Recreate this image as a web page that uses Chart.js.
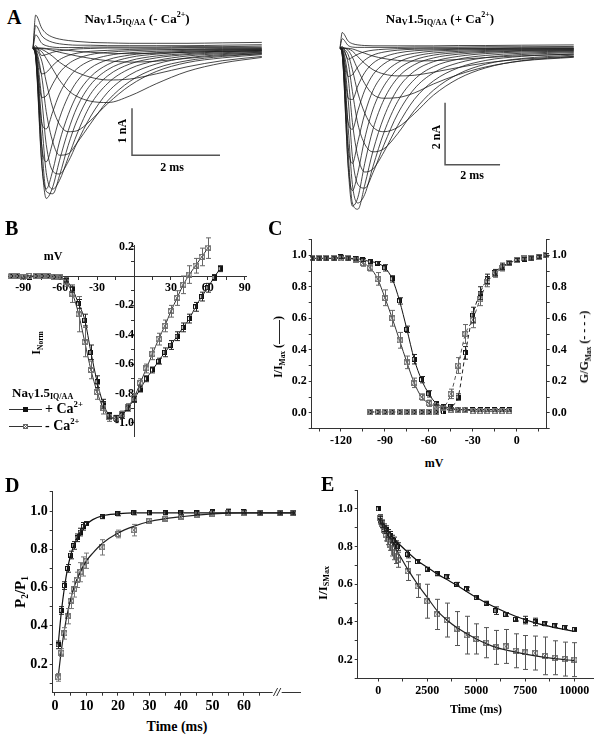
<!DOCTYPE html>
<html>
<head>
<meta charset="utf-8">
<script src="https://cdn.jsdelivr.net/npm/chart.js@4.4.1/dist/chart.umd.min.js"></script>
<style>
  body { margin: 0; background: #fff; width: 601px; height: 740px; position: relative; overflow: hidden;
         font-family: "Liberation Serif", "DejaVu Serif", serif; font-weight: bold; color: #000; }
  canvas { position: absolute; }
  .t { position: absolute; white-space: nowrap; line-height: 1; transform: translate(-50%, -50%); }
  .tl { position: absolute; white-space: nowrap; line-height: 1; transform: translate(0, -50%); }
  .rot { transform: translate(-50%, -50%) rotate(-90deg); }
  .lab { position: absolute; font-size: 20px; line-height: 1; }
  sub { font-size: 62%; vertical-align: -0.35em; line-height: 0; }
  sup { font-size: 62%; vertical-align: 0.65em; line-height: 0; }
  .ln { position: absolute; height: 0; border-top: 1px solid #333; }
  .mk { position: absolute; width: 5px; height: 5px; box-sizing: border-box; }
  .mfill { background: #111; border: 1px solid #111; }
  .mcross { border: 1px solid #666; background:
      linear-gradient(45deg, transparent 42%, #666 42%, #666 58%, transparent 58%),
      linear-gradient(-45deg, transparent 42%, #666 42%, #666 58%, transparent 58%), #fff; }
</style>
</head>
<body>
<canvas id="aMinus"></canvas>
<canvas id="aPlus"></canvas>
<canvas id="chartB"></canvas>
<canvas id="chartC"></canvas>
<canvas id="chartD"></canvas>
<canvas id="chartE"></canvas>

<div class="lab" style="left:7px;top:7px">A</div>
<div class="t" style="left:137px;top:18px;font-size:13px">Na<sub>V</sub>1.5<sub>IQ/AA</sub> (- Ca<sup>2+</sup>)</div>
<div class="t" style="left:440px;top:18px;font-size:13px">Na<sub>V</sub>1.5<sub>IQ/AA</sub> (+ Ca<sup>2+</sup>)</div>
<div class="t rot" style="left:122px;top:131px;font-size:12px">1 nA</div>
<div class="t" style="left:172px;top:167px;font-size:12px">2 ms</div>
<div class="t rot" style="left:436px;top:137px;font-size:12px">2 nA</div>
<div class="t" style="left:472px;top:175px;font-size:12px">2 ms</div>

<div class="lab" style="left:5px;top:218px">B</div>
<div class="t" style="left:53px;top:256px;font-size:12px">mV</div>
<div class="t rot" style="left:36px;top:343px;font-size:12px">I<sub>Norm</sub></div>
<div class="tl" style="left:12px;top:392px;font-size:13px">Na<sub>V</sub>1.5<sub>IQ/AA</sub></div>
<div class="ln" style="left:9px;top:409px;width:33px"></div>
<div class="mk mfill" style="left:23px;top:407px"></div>
<div class="tl" style="left:45px;top:409px;font-size:14px">+ Ca<sup>2+</sup></div>
<div class="ln" style="left:9px;top:426px;width:33px"></div>
<div class="mk mcross" style="left:23px;top:424px"></div>
<div class="tl" style="left:45px;top:426px;font-size:14px">- Ca<sup>2+</sup></div>

<div class="lab" style="left:268px;top:218px">C</div>
<div class="t rot" style="left:278px;top:347px;font-size:12px">I/I<sub>Max</sub> (——)</div>
<div class="t rot" style="left:584px;top:347px;font-size:12px">G/G<sub>Max</sub> (- - - -)</div>
<div class="t" style="left:434px;top:463px;font-size:12px">mV</div>

<div class="lab" style="left:5px;top:475px">D</div>
<div class="t rot" style="left:20px;top:592px;font-size:15px">P<sub>2</sub>/P<sub>1</sub></div>
<div class="t" style="left:177px;top:727px;font-size:14px">Time (ms)</div>
<div class="t" style="left:277px;top:692px;font-size:12px;font-style:italic;background:#fff;padding:0 1px">//</div>

<div class="lab" style="left:321px;top:474px">E</div>
<div class="t rot" style="left:322px;top:583px;font-size:13px">I/I<sub>SMax</sub></div>
<div class="t" style="left:476px;top:709px;font-size:12px">Time (ms)</div>

<script>
// ---------- A: current traces (nA), sampled at fixed times (ms)
const aMinusTime = [0, 0.06, 0.2, 0.3, 0.45, 0.6, 0.8, 1.0, 1.3, 1.7, 2.2, 2.8, 3.5, 4.3, 5.2];
const aMinusTraces = [
  [0, 0.70, 0.42, 0.31, 0.23, 0.19, 0.16, 0.14, 0.12, 0.11, 0.10, 0.10, 0.10, 0.11, 0.12],
  [0, 0.48, 0.26, 0.18, 0.12, 0.09, 0.07, 0.06, 0.06, 0.05, 0.05, 0.05, 0.05, 0.06, 0.07],
  [0, 0.28, 0.10, 0.05, 0.02, 0.01, 0.01, 0.01, 0.02, 0.02, 0.02, 0.02, 0.03, 0.03, 0.04],
  [0, 0.05, -0.16, -0.14, -0.09, -0.06, -0.04, -0.02, -0.01, 0, 0, 0, 0.01, 0.01, 0.01],
  [0, -0.05, -0.55, -0.52, -0.37, -0.25, -0.16, -0.11, -0.07, -0.05, -0.03, -0.02, -0.02, -0.01, -0.01],
  [0, -0.10, -1.05, -1.02, -0.76, -0.53, -0.34, -0.23, -0.14, -0.09, -0.06, -0.04, -0.03, -0.03, -0.02],
  [0, -0.15, -1.60, -1.72, -1.35, -0.98, -0.65, -0.44, -0.27, -0.16, -0.10, -0.07, -0.05, -0.04, -0.03],
  [0, -0.18, -2.10, -2.42, -2.00, -1.50, -1.03, -0.71, -0.43, -0.25, -0.15, -0.10, -0.07, -0.05, -0.04],
  [0, -0.20, -2.50, -3.00, -2.60, -2.00, -1.42, -1.00, -0.62, -0.35, -0.20, -0.13, -0.09, -0.07, -0.05],
  [0, -0.18, -2.45, -3.20, -2.95, -2.40, -1.76, -1.26, -0.79, -0.46, -0.27, -0.17, -0.12, -0.08, -0.06],
  [0, -0.14, -2.10, -3.05, -3.10, -2.72, -2.07, -1.54, -0.99, -0.59, -0.34, -0.21, -0.14, -0.10, -0.07],
  [0, -0.10, -1.60, -2.65, -3.00, -2.82, -2.33, -1.83, -1.22, -0.75, -0.44, -0.27, -0.17, -0.12, -0.09],
  [0, -0.06, -1.10, -2.05, -2.62, -2.68, -2.42, -2.02, -1.47, -0.94, -0.57, -0.34, -0.21, -0.14, -0.10],
  [0, -0.03, -0.62, -1.35, -2.00, -2.28, -2.25, -2.02, -1.62, -1.12, -0.71, -0.43, -0.27, -0.18, -0.12],
  [0, -0.02, -0.28, -0.72, -1.28, -1.62, -1.78, -1.76, -1.55, -1.18, -0.80, -0.50, -0.31, -0.21, -0.14],
  [0, -0.01, -0.08, -0.22, -0.45, -0.68, -0.90, -1.03, -1.13, -1.16, -1.02, -0.76, -0.50, -0.32, -0.20],
  [0, 0, -0.03, -0.08, -0.18, -0.30, -0.42, -0.52, -0.62, -0.68, -0.66, -0.55, -0.40, -0.27, -0.18],
  [0, 0, -0.01, -0.02, -0.05, -0.09, -0.13, -0.17, -0.22, -0.27, -0.30, -0.28, -0.22, -0.16, -0.12],
  [0, 0, 0, -0.01, -0.02, -0.03, -0.05, -0.07, -0.09, -0.11, -0.12, -0.11, -0.09, -0.07, -0.06]
];
const aPlusTime = [0, 0.08, 0.3, 0.45, 0.65, 0.9, 1.2, 1.6, 2.1, 2.7, 3.4, 4.3, 5.3, 6.6, 8.5];
const aPlusTraces = [
  [0, 0.50, 0.22, 0.14, 0.10, 0.08, 0.07, 0.07, 0.07, 0.07, 0.07, 0.08, 0.08, 0.09, 0.10],
  [0, 0.30, 0.08, 0.03, 0.02, 0.02, 0.02, 0.02, 0.02, 0.03, 0.03, 0.03, 0.04, 0.04, 0.05],
  [0, 0.05, -0.36, -0.30, -0.20, -0.12, -0.07, -0.04, -0.02, -0.01, 0, 0, 0, 0.01, 0.01],
  [0, -0.05, -0.92, -0.86, -0.61, -0.39, -0.23, -0.13, -0.07, -0.04, -0.03, -0.02, -0.02, -0.01, -0.01],
  [0, -0.10, -1.62, -1.66, -1.22, -0.79, -0.49, -0.29, -0.16, -0.09, -0.06, -0.04, -0.03, -0.03, -0.02],
  [0, -0.15, -2.42, -2.62, -2.02, -1.36, -0.86, -0.51, -0.29, -0.17, -0.10, -0.07, -0.05, -0.04, -0.03],
  [0, -0.20, -3.20, -3.72, -3.02, -2.12, -1.37, -0.83, -0.47, -0.27, -0.16, -0.11, -0.08, -0.06, -0.05],
  [0, -0.22, -3.80, -4.60, -4.02, -2.92, -1.97, -1.22, -0.69, -0.39, -0.23, -0.15, -0.11, -0.08, -0.06],
  [0, -0.20, -3.90, -5.10, -4.82, -3.72, -2.62, -1.66, -0.96, -0.54, -0.32, -0.20, -0.14, -0.10, -0.08],
  [0, -0.15, -3.40, -5.00, -5.20, -4.42, -3.32, -2.22, -1.32, -0.75, -0.44, -0.27, -0.18, -0.13, -0.10],
  [0, -0.10, -2.60, -4.40, -5.00, -4.72, -3.82, -2.72, -1.72, -1.02, -0.60, -0.36, -0.24, -0.17, -0.12],
  [0, -0.06, -1.70, -3.50, -4.40, -4.52, -4.02, -3.12, -2.12, -1.32, -0.80, -0.48, -0.31, -0.21, -0.15],
  [0, -0.03, -1.00, -2.40, -3.50, -4.00, -3.90, -3.35, -2.50, -1.66, -1.06, -0.64, -0.40, -0.27, -0.19],
  [0, -0.02, -0.50, -1.40, -2.45, -3.10, -3.35, -3.25, -2.76, -2.02, -1.36, -0.84, -0.52, -0.34, -0.23],
  [0, -0.01, -0.22, -0.70, -1.45, -2.10, -2.55, -2.70, -2.56, -2.12, -1.52, -0.99, -0.64, -0.41, -0.28],
  [0, 0, -0.08, -0.30, -0.70, -1.15, -1.50, -1.62, -1.60, -1.45, -1.16, -0.86, -0.61, -0.42, -0.30],
  [0, 0, -0.03, -0.10, -0.28, -0.50, -0.70, -0.84, -0.90, -0.88, -0.78, -0.63, -0.48, -0.36, -0.27],
  [0, 0, -0.01, -0.03, -0.09, -0.17, -0.26, -0.34, -0.40, -0.42, -0.41, -0.37, -0.31, -0.25, -0.20]
];
// scale bars: [corner time ms, corner current nA, length ms, length nA]
const aMinusBar = [2.25, -2.28, 2, 1];
const aPlusBar = [3.82, -3.77, 2, 2];

// ---------- B: I-V relation
const bVoltPlus = [-100, -95, -90, -85, -80, -75, -70, -65, -60, -55, -50, -45, -40, -35, -30, -25, -20, -15, -10, -5, 0, 5, 10, 15, 20, 25, 30, 35, 40, 45, 50, 55, 60, 65, 70];
const bPlus = [0, 0, 0, -0.01, 0, 0, 0, -0.005, -0.01, -0.03, -0.09, -0.19, -0.30, -0.52, -0.72, -0.87, -0.95, -0.97, -0.95, -0.90, -0.84, -0.77, -0.70, -0.64, -0.58, -0.52, -0.47, -0.41, -0.35, -0.29, -0.21, -0.14, -0.08, -0.01, 0.05];
const bPlusErr = [0, 0, 0, 0, 0, 0, 0, 0, 0, 0.01, 0.02, 0.03, 0.04, 0.05, 0.04, 0.03, 0.02, 0.02, 0.02, 0.02, 0.02, 0.02, 0.02, 0.02, 0.02, 0.03, 0.03, 0.03, 0.03, 0.03, 0.03, 0.03, 0.03, 0.02, 0.02];
const bVoltMinus = [-100, -95, -90, -85, -80, -75, -70, -65, -60, -55, -50, -45, -40, -35, -30, -25, -20, -15, -10, -5, 0, 5, 10, 15, 20, 25, 30, 35, 40, 45, 50, 55, 60];
const bMinus = [0, 0, -0.01, 0, 0, 0, 0, -0.005, -0.01, -0.04, -0.12, -0.26, -0.45, -0.64, -0.79, -0.90, -0.96, -0.97, -0.94, -0.89, -0.83, -0.73, -0.63, -0.53, -0.43, -0.34, -0.24, -0.15, -0.06, 0.01, 0.07, 0.13, 0.19];
const bMinusErr = [0, 0, 0, 0, 0, 0, 0, 0, 0.01, 0.03, 0.06, 0.12, 0.10, 0.06, 0.05, 0.04, 0.03, 0.02, 0.02, 0.02, 0.03, 0.03, 0.03, 0.04, 0.04, 0.04, 0.04, 0.05, 0.06, 0.06, 0.05, 0.06, 0.07];
const bXTicks = [-90, -75, -60, -45, -30, -15, 0, 15, 30, 45, 60, 75, 90];
const bXLabels = [-90, -60, -30, 30, 60, 90];
const bYTicks = [0.2, 0.1, 0, -0.1, -0.2, -0.3, -0.4, -0.5, -0.6, -0.7, -0.8, -0.9, -1.0];
const bYLabels = [0.2, -0.2, -0.4, -0.6, -0.8, -1.0];

// ---------- C: steady-state inactivation (I/Imax) and activation (G/Gmax)
const cInactVolt = [-140, -135, -130, -125, -120, -115, -110, -105, -100, -95, -90, -85, -80, -75, -70, -65, -60, -55, -50, -45, -40, -35, -30, -25, -20, -15, -10, -5];
const cInactPlus = [0.98, 0.98, 0.98, 0.98, 0.99, 0.98, 0.98, 0.97, 0.96, 0.95, 0.92, 0.85, 0.71, 0.53, 0.34, 0.21, 0.12, 0.06, 0.04, 0.03, 0.02, 0.02, 0.02, 0.02, 0.02, 0.02, 0.02, 0.02];
const cInactPlusErr = [0.01, 0.01, 0.01, 0.01, 0.01, 0.01, 0.01, 0.01, 0.01, 0.01, 0.02, 0.02, 0.02, 0.02, 0.03, 0.02, 0.02, 0.01, 0.01, 0, 0, 0, 0, 0, 0, 0, 0, 0];
const cInactMinus = [0.98, 0.98, 0.98, 0.98, 0.98, 0.98, 0.97, 0.95, 0.92, 0.85, 0.73, 0.60, 0.46, 0.32, 0.19, 0.10, 0.06, 0.04, 0.03, 0.02, 0.02, 0.02, 0.01, 0.01, 0.01, 0.01, 0.01, 0.01];
const cInactMinusErr = [0.01, 0.01, 0.01, 0.01, 0.01, 0.01, 0.01, 0.02, 0.02, 0.04, 0.05, 0.05, 0.05, 0.04, 0.03, 0.02, 0.02, 0.01, 0.01, 0, 0, 0, 0, 0, 0, 0, 0, 0];
const cActVolt = [-100, -95, -90, -85, -80, -75, -70, -65, -60, -55, -50, -45, -40, -35, -30, -25, -20, -15, -10, -5, 0, 5, 10, 15, 20];
const cActPlus = [0.005, 0.005, 0.005, 0.005, 0.005, 0.005, 0.005, 0.005, 0.005, 0.005, 0.005, 0.04, 0.10, 0.38, 0.62, 0.76, 0.85, 0.89, 0.93, 0.95, 0.97, 0.975, 0.98, 0.99, 1.0];
const cActPlusErr = [0, 0, 0, 0, 0, 0, 0, 0, 0, 0, 0, 0.01, 0.02, 0.04, 0.05, 0.04, 0.03, 0.02, 0.02, 0.01, 0.01, 0.01, 0.01, 0.01, 0.01];
const cActMinus = [0.005, 0.005, 0.005, 0.005, 0.005, 0.005, 0.005, 0.005, 0.005, 0.005, 0.03, 0.12, 0.30, 0.50, 0.59, 0.72, 0.83, 0.88, 0.92, 0.95, 0.97, 0.98, 0.98, 0.99, 1.0];
const cActMinusErr = [0, 0, 0, 0, 0, 0, 0, 0, 0, 0, 0.01, 0.03, 0.05, 0.06, 0.05, 0.04, 0.03, 0.02, 0.02, 0.01, 0.01, 0.01, 0.01, 0.01, 0.01];
const cXTicks = [-135, -120, -105, -90, -75, -60, -45, -30, -15, 0, 15];
const cXLabels = [-120, -90, -60, -30, 0];
const cYTicks = [-0.1, 0, 0.1, 0.2, 0.3, 0.4, 0.5, 0.6, 0.7, 0.8, 0.9, 1.0, 1.1];
const cYLabels = [0, 0.2, 0.4, 0.6, 0.8, 1.0];

// ---------- D: recovery from inactivation (71.5 and 75.5 sit past the axis break)
const dTime = [1, 2, 3, 4, 5, 6, 7, 8, 9, 10, 15, 20, 25, 30, 35, 40, 45, 50, 55, 60, 65, 71.5, 75.5];
const dPlus = [0.30, 0.48, 0.61, 0.70, 0.77, 0.82, 0.86, 0.89, 0.92, 0.935, 0.97, 0.985, 0.99, 0.99, 0.99, 0.99, 0.99, 0.995, 1.0, 0.995, 0.99, 0.99, 0.99];
const dPlusErr = [0.02, 0.02, 0.02, 0.02, 0.02, 0.02, 0.02, 0.02, 0.02, 0.01, 0.01, 0.01, 0.01, 0.01, 0.01, 0.01, 0.01, 0.01, 0.01, 0.01, 0.01, 0.01, 0.01];
const dMinus = [0.13, 0.26, 0.36, 0.45, 0.53, 0.59, 0.64, 0.68, 0.71, 0.74, 0.81, 0.88, 0.90, 0.95, 0.96, 0.97, 0.98, 0.985, 0.99, 0.99, 0.99, 0.99, 0.99];
const dMinusErr = [0.02, 0.02, 0.03, 0.04, 0.04, 0.04, 0.04, 0.05, 0.05, 0.04, 0.04, 0.02, 0.03, 0.01, 0.01, 0.01, 0.01, 0.01, 0.01, 0.01, 0.01, 0.01, 0.01];
const dFitTime = [1, 2, 3, 4, 5, 6, 8, 10, 12, 15, 20, 25, 30, 40, 50, 60, 76];
const dFitPlus = [0.30, 0.47, 0.60, 0.70, 0.77, 0.82, 0.89, 0.93, 0.955, 0.975, 0.985, 0.99, 0.99, 0.99, 0.99, 0.99, 0.99];
const dFitMinus = [0.13, 0.27, 0.38, 0.47, 0.54, 0.60, 0.68, 0.74, 0.78, 0.83, 0.885, 0.92, 0.945, 0.97, 0.985, 0.99, 0.99];
const dXTicks = [0, 5, 10, 15, 20, 25, 30, 35, 40, 45, 50, 55, 60, 65];
const dXLabels = [0, 10, 20, 30, 40, 50, 60];
const dYTicks = [0.1, 0.2, 0.3, 0.4, 0.5, 0.6, 0.7, 0.8, 0.9, 1.0, 1.1];
const dYLabels = [0.2, 0.4, 0.6, 0.8, 1.0];

// ---------- E: use-dependent decay
const eTimePlus = [0, 100, 200, 300, 400, 500, 600, 700, 800, 900, 1000, 1500, 2000, 2500, 3000, 3500, 4000, 4500, 5000, 5500, 6000, 6500, 7000, 7500, 8000, 8500, 9000, 9500, 10000];
const ePlus = [1.0, 0.94, 0.92, 0.90, 0.89, 0.87, 0.86, 0.84, 0.83, 0.81, 0.80, 0.76, 0.72, 0.68, 0.655, 0.64, 0.60, 0.575, 0.53, 0.50, 0.46, 0.44, 0.415, 0.41, 0.40, 0.39, 0.38, 0.37, 0.36];
const ePlusErr = [0, 0.02, 0.02, 0.02, 0.02, 0.02, 0.02, 0.02, 0.02, 0.02, 0.02, 0.02, 0.01, 0.01, 0.01, 0.01, 0.01, 0.01, 0.01, 0.01, 0.02, 0.01, 0.01, 0.02, 0.02, 0.01, 0.01, 0.01, 0.01];
const eTimeMinus = [100, 200, 300, 400, 500, 600, 700, 800, 900, 1000, 1500, 2000, 2500, 3000, 3500, 4000, 4500, 5000, 5500, 6000, 6500, 7000, 7500, 8000, 8500, 9000, 9500, 10000];
const eMinus = [0.95, 0.92, 0.89, 0.86, 0.84, 0.81, 0.79, 0.77, 0.75, 0.73, 0.67, 0.59, 0.51, 0.44, 0.41, 0.365, 0.33, 0.31, 0.29, 0.265, 0.27, 0.247, 0.238, 0.235, 0.22, 0.21, 0.203, 0.20];
const eMinusErr = [0.02, 0.02, 0.02, 0.03, 0.03, 0.03, 0.04, 0.04, 0.04, 0.04, 0.05, 0.06, 0.09, 0.08, 0.09, 0.09, 0.10, 0.08, 0.08, 0.09, 0.09, 0.09, 0.09, 0.09, 0.10, 0.09, 0.09, 0.09];
const eFitTime = [0, 500, 1000, 1500, 2000, 2500, 3000, 3500, 4000, 5000, 6000, 7000, 8000, 9000, 10000];
const eFitPlus = [0.95, 0.88, 0.82, 0.77, 0.725, 0.69, 0.655, 0.625, 0.595, 0.53, 0.475, 0.43, 0.395, 0.37, 0.35];
const eFitMinus = [0.95, 0.86, 0.77, 0.68, 0.60, 0.53, 0.46, 0.41, 0.37, 0.31, 0.265, 0.24, 0.22, 0.205, 0.195];
const eXTicks = [0, 1250, 2500, 3750, 5000, 6250, 7500, 8750, 10000];
const eXLabels = [0, 2500, 5000, 7500, 10000];
const eYTicks = [0.1, 0.2, 0.3, 0.4, 0.5, 0.6, 0.7, 0.8, 0.9, 1.0, 1.1];
const eYLabels = [0.2, 0.4, 0.6, 0.8, 1.0];

// ---------- helpers
Chart.defaults.font.family = '"Liberation Serif", "DejaVu Serif", serif';
Chart.defaults.font.weight = 'bold';
Chart.defaults.color = '#000';

const pts = (xs, ys) => xs.map((x, i) => ({ x: x, y: ys[i] }));

function markerFilled() {
  const c = document.createElement('canvas');
  c.width = c.height = 5;
  const g = c.getContext('2d');
  g.fillStyle = '#111'; g.fillRect(0, 0, 5, 5);
  g.fillStyle = '#fff'; g.fillRect(1, 1, 1, 3);
  return c;
}
function markerCross() {
  const c = document.createElement('canvas');
  c.width = c.height = 6;
  const g = c.getContext('2d');
  g.strokeStyle = '#777'; g.lineWidth = 1;
  g.strokeRect(0.5, 0.5, 5, 5);
  g.beginPath(); g.moveTo(1, 1); g.lineTo(5, 5); g.moveTo(5, 1); g.lineTo(1, 5); g.stroke();
  return c;
}
const MF = markerFilled(), MX = markerCross();

const errorBars = {
  id: 'errorBars',
  afterDatasetsDraw(chart) {
    const ctx = chart.ctx;
    chart.data.datasets.forEach(ds => {
      if (!ds.errors) return;
      const xs = chart.scales[ds.xAxisID || 'x'], ys = chart.scales[ds.yAxisID || 'y'];
      ctx.save();
      ctx.strokeStyle = ds.errColor || '#333';
      ctx.lineWidth = 1;
      ctx.beginPath();
      ds.data.forEach((p, j) => {
        const e = ds.errors[j];
        if (!e) return;
        const px = Math.round(xs.getPixelForValue(p.x)) + 0.5;
        const y1 = ys.getPixelForValue(p.y + e), y2 = ys.getPixelForValue(p.y - e);
        ctx.moveTo(px, y1); ctx.lineTo(px, y2);
        ctx.moveTo(px - 2.5, y1); ctx.lineTo(px + 2.5, y1);
        ctx.moveTo(px - 2.5, y2); ctx.lineTo(px + 2.5, y2);
      });
      ctx.stroke();
      ctx.restore();
    });
  }
};

function place(id, box) {
  const c = document.getElementById(id);
  c.width = box[2]; c.height = box[3];
  c.style.left = box[0] + 'px'; c.style.top = box[1] + 'px';
  return c;
}

function fixed(size) {
  return s => {
    if (s.isHorizontal()) s.height = size; else s.width = size;
    s.paddingLeft = s.paddingRight = s.paddingTop = s.paddingBottom = 0;
  };
}

function axis(min, max, ticks, labels, fmt, size, fontSize, extra) {
  return Object.assign({
    type: 'linear', min: min, max: max,
    border: { display: true, color: '#333', width: 1 },
    grid: { drawOnChartArea: false, drawTicks: true, tickLength: 3, color: '#333' },
    ticks: {
      autoSkip: false, padding: 2, color: '#000', maxRotation: 0, minRotation: 0,
      font: { size: fontSize, weight: 'bold' },
      callback: v => labels.some(l => Math.abs(l - v) < 1e-9) ? fmt(v) : ''
    },
    afterBuildTicks: s => { s.ticks = ticks.map(v => ({ value: v })); },
    afterFit: size == null ? undefined : fixed(size)
  }, extra || {});
}

const baseOpts = {
  responsive: false, animation: false, devicePixelRatio: 1, events: [],
  plugins: { legend: { display: false }, tooltip: { enabled: false } },
  elements: { point: { radius: 0 }, line: { tension: 0 } }
};

function traceChart(id, box, time, traces, bar, xr, yr) {
  const sets = traces.map(tr => ({
    data: pts(time, tr), borderColor: '#1a1a1a', borderWidth: 0.8,
    cubicInterpolationMode: 'monotone', pointRadius: 0
  }));
  sets.push({
    data: [{ x: bar[0], y: bar[1] + bar[3] }, { x: bar[0], y: bar[1] }, { x: bar[0] + bar[2], y: bar[1] }],
    borderColor: '#555', borderWidth: 1.5, pointRadius: 0
  });
  new Chart(place(id, box), {
    type: 'line',
    data: { datasets: sets },
    options: Object.assign({}, baseOpts, {
      layout: { padding: 0 },
      scales: {
        x: { type: 'linear', display: false, min: xr[0], max: xr[1] },
        y: { type: 'linear', display: false, min: yr[0], max: yr[1] }
      }
    })
  });
}

const f1 = v => v.toFixed(1);
const f0 = v => String(v);

// ---------- A
traceChart('aMinus', [28, 10, 237, 195], aMinusTime, aMinusTraces, aMinusBar, [-0.114, 5.273], [-3.34, 0.809]);
traceChart('aPlus', [335, 10, 240, 205], aPlusTime, aPlusTraces, aPlusBar, [-0.182, 8.545], [-5.387, 1.226]);

// ---------- B
new Chart(place('chartB', [0, 236, 255, 210]), {
  type: 'line',
  data: { datasets: [
    { data: pts(bVoltMinus, bMinus), errors: bMinusErr, errColor: '#666', borderColor: '#333', borderWidth: 1,
      cubicInterpolationMode: 'monotone', pointStyle: MX, pointRadius: 3 },
    { data: pts(bVoltPlus, bPlus), errors: bPlusErr, errColor: '#222', borderColor: '#111', borderWidth: 1,
      cubicInterpolationMode: 'monotone', pointStyle: MF, pointRadius: 3 }
  ] },
  options: Object.assign({}, baseOpts, {
    layout: { padding: { left: 8.5, top: 9, right: 9, bottom: 10 } },
    scales: {
      x: axis(-102, 91, bXTicks, bXLabels, f0, null, 12, { position: { y: 0 } }),
      y: axis(-1.09, 0.21, bYTicks, bYLabels, f1, null, 12, { position: { x: 0 } })
    }
  }),
  plugins: [errorBars]
});

// ---------- C
new Chart(place('chartC', [258, 230, 343, 225]), {
  type: 'line',
  data: { datasets: [
    { data: pts(cInactVolt, cInactMinus), errors: cInactMinusErr, errColor: '#666', borderColor: '#333', borderWidth: 1,
      cubicInterpolationMode: 'monotone', pointStyle: MX, pointRadius: 3 },
    { data: pts(cInactVolt, cInactPlus), errors: cInactPlusErr, errColor: '#222', borderColor: '#111', borderWidth: 1,
      cubicInterpolationMode: 'monotone', pointStyle: MF, pointRadius: 3 },
    { data: pts(cActVolt, cActMinus), errors: cActMinusErr, errColor: '#666', yAxisID: 'y2', borderColor: '#555',
      borderWidth: 1, borderDash: [4, 3], cubicInterpolationMode: 'monotone', pointStyle: MX, pointRadius: 3 },
    { data: pts(cActVolt, cActPlus), errors: cActPlusErr, errColor: '#222', yAxisID: 'y2', borderColor: '#222',
      borderWidth: 1, borderDash: [4, 3], cubicInterpolationMode: 'monotone', pointStyle: MF, pointRadius: 3 }
  ] },
  options: Object.assign({}, baseOpts, {
    layout: { padding: { top: 9.5, left: 0, right: 0, bottom: 0 } },
    scales: {
      x: axis(-140, 20.5, cXTicks, cXLabels, f0, 26.5, 12, { position: 'bottom' }),
      y: axis(-0.1, 1.1, cYTicks, cYLabels, f1, 53.7, 12, { position: 'left' }),
      y2: axis(-0.1, 1.1, cYTicks, cYLabels, f1, 54.3, 12, { position: 'right' })
    }
  }),
  plugins: [errorBars]
});

// ---------- D
new Chart(place('chartD', [0, 480, 305, 235]), {
  type: 'line',
  data: { datasets: [
    { data: pts(dFitTime, dFitMinus), borderColor: '#222', borderWidth: 1.2, cubicInterpolationMode: 'monotone' },
    { data: pts(dFitTime, dFitPlus), borderColor: '#111', borderWidth: 1.2, cubicInterpolationMode: 'monotone' },
    { data: pts(dTime, dMinus), errors: dMinusErr, errColor: '#777', showLine: false, pointStyle: MX, pointRadius: 3 },
    { data: pts(dTime, dPlus), errors: dPlusErr, errColor: '#222', showLine: false, pointStyle: MF, pointRadius: 3 }
  ] },
  options: Object.assign({}, baseOpts, {
    layout: { padding: { top: 11.7, right: 5, left: 0, bottom: 0 } },
    scales: {
      x: axis(-0.73, 77.8, dXTicks, dXLabels, f0, 22.3, 14, { position: 'bottom' }),
      y: axis(0.05, 1.101, dYTicks, dYLabels, f1, 52.7, 14, { position: 'left' })
    }
  }),
  plugins: [errorBars]
});

// ---------- E
new Chart(place('chartE', [305, 480, 296, 225]), {
  type: 'line',
  data: { datasets: [
    { data: pts(eFitTime, eFitMinus), borderColor: '#222', borderWidth: 1.2, cubicInterpolationMode: 'monotone' },
    { data: pts(eFitTime, eFitPlus), borderColor: '#111', borderWidth: 1.2, cubicInterpolationMode: 'monotone' },
    { data: pts(eTimeMinus, eMinus), errors: eMinusErr, errColor: '#555', showLine: false, pointStyle: MX, pointRadius: 3 },
    { data: pts(eTimePlus, ePlus), errors: ePlusErr, errColor: '#222', showLine: false, pointStyle: MF, pointRadius: 3 }
  ] },
  options: Object.assign({}, baseOpts, {
    layout: { padding: { top: 10, right: 8, left: 0, bottom: 0 } },
    scales: {
      x: axis(-1050, 10950, eXTicks, eXLabels, f0, 26.5, 12, { position: 'bottom' }),
      y: axis(0.1, 1.1, eYTicks, eYLabels, f1, 52.7, 12, { position: 'left' })
    }
  }),
  plugins: [errorBars]
});
</script>
</body>
</html>
